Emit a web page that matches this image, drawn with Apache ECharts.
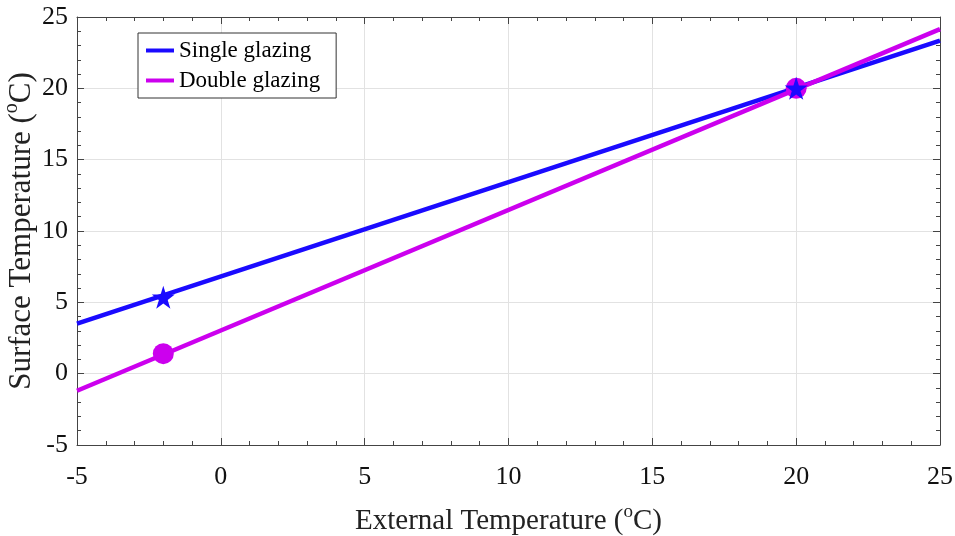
<!DOCTYPE html>
<html>
<head>
<meta charset="utf-8">
<script src="https://cdn.jsdelivr.net/npm/echarts@6/dist/echarts.min.js"></script>
<style>
    html, body { margin: 0; padding: 0; background: #fff; }
    #chart { width: 955px; height: 536px; }
</style>
</head>
<body>
<div id="chart"></div>
<script>
// data
var xEnds = [-5, 25];
var singleLine = [3.5, 23.35];
var doubleLine = [-1.2, 24.15];
var markX = [-2, 20];
var singleMarks = [5.35, 20];
var doubleMarks = [1.4, 20];
var seriesNames = ['Single glazing', 'Double glazing'];

var blue = '#1a0aff';
var magenta = '#cc00ee';
var font = '"Liberation Serif", "Times New Roman", serif';

function pairs(xs, ys) {
    return xs.map(function (x, i) { return [x, ys[i]]; });
}

function titleRich(size) {
    return {
        a: { fontFamily: font, fontSize: size, color: '#222' },
        s: { fontFamily: font, fontSize: Math.round(size * 0.65), color: '#222', verticalAlign: 'top', padding: [0, 0, Math.round(size * 0.6), 0] }
    };
}

var chart = echarts.init(document.getElementById('chart'));

var tickStyle = { show: true, inside: true, length: 7, lineStyle: { color: '#444', width: 1 } };
var minorStyle = { show: true, splitNumber: 5, length: 4, lineStyle: { color: '#444', width: 1 } };
var lineStyleAxis = { show: true, onZero: false, lineStyle: { color: '#444', width: 1 } };

var option = {
    animation: false,
    textStyle: { fontFamily: font },
    grid: { left: 77, right: 15, top: 17, bottom: 91, outerBoundsMode: 'none' },
    legend: {
        data: seriesNames,
        left: 138, top: 33,
        orient: 'vertical',
        itemWidth: 28, itemHeight: 4,
        itemGap: 7,
        padding: [6, 16, 6, 8],
        borderColor: '#333', borderWidth: 1,
        backgroundColor: '#fff',
        icon: 'rect',
        textStyle: { fontFamily: font, fontSize: 23, color: '#000' }
    },
    xAxis: [{
        type: 'value', min: -5, max: 25, interval: 5,
        name: '{a|External Temperature (}{s|o}{a|C)}',
        nameLocation: 'middle', nameGap: 58, nameMoveOverlap: false,
        nameTextStyle: { rich: titleRich(29) },
        axisLine: lineStyleAxis,
        axisTick: tickStyle,
        minorTick: minorStyle,
        axisLabel: { fontFamily: font, fontSize: 26, color: '#111', margin: 19 },
        splitLine: { show: true, lineStyle: { color: '#e2e2e2' } }
    }, {
        type: 'value', min: -5, max: 25, interval: 5, position: 'top',
        axisLine: lineStyleAxis,
        axisTick: tickStyle,
        minorTick: minorStyle,
        axisLabel: { show: false },
        splitLine: { show: false }
    }],
    yAxis: [{
        type: 'value', min: -5, max: 25, interval: 5,
        name: '{a|Surface Temperature (}{s|o}{a|C)}',
        nameLocation: 'middle', nameGap: 36, nameRotate: 90, nameMoveOverlap: false,
        nameTextStyle: { rich: titleRich(31) },
        axisLine: lineStyleAxis,
        axisTick: tickStyle,
        minorTick: minorStyle,
        axisLabel: { fontFamily: font, fontSize: 26, color: '#111', margin: 9 },
        splitLine: { show: true, lineStyle: { color: '#e2e2e2' } }
    }, {
        type: 'value', min: -5, max: 25, interval: 5, position: 'right',
        axisLine: lineStyleAxis,
        axisTick: tickStyle,
        minorTick: minorStyle,
        axisLabel: { show: false },
        splitLine: { show: false }
    }],
    series: [{
        name: seriesNames[0],
        type: 'line',
        data: pairs(xEnds, singleLine),
        showSymbol: false,
        lineStyle: { color: blue, width: 4.5 },
        itemStyle: { color: blue },
        z: 2
    }, {
        name: seriesNames[1],
        type: 'line',
        data: pairs(xEnds, doubleLine),
        showSymbol: false,
        lineStyle: { color: magenta, width: 4.5 },
        itemStyle: { color: magenta },
        z: 3
    }, {
        name: 'double marks',
        type: 'scatter',
        data: pairs(markX, doubleMarks),
        symbol: 'circle', symbolSize: 21,
        itemStyle: { color: magenta, opacity: 1 },
        z: 4
    }, {
        name: 'single marks',
        type: 'scatter',
        data: pairs(markX, singleMarks),
        symbol: 'path://M50,0 L61.8,35.4 L100,35.4 L69.1,57.3 L80.9,93.3 L50,71.2 L19.1,93.3 L30.9,57.3 L0,35.4 L38.2,35.4 Z',
        symbolSize: 23,
        itemStyle: { color: blue, opacity: 1 },
        z: 5
    }]
};

chart.setOption(option);
</script>
</body>
</html>
